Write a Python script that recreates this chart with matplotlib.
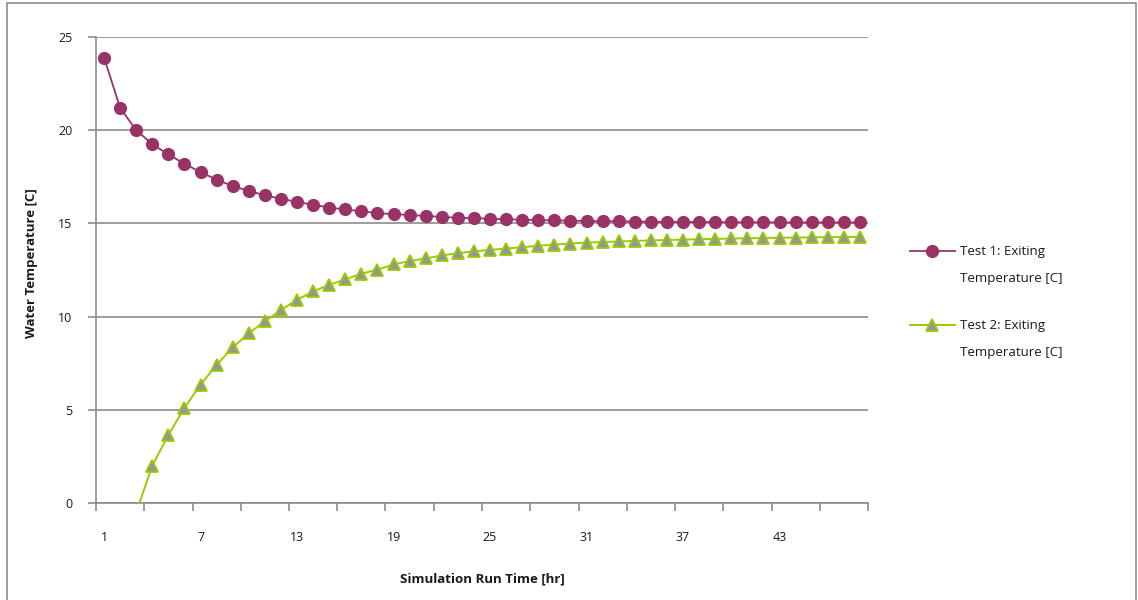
import matplotlib.pyplot as plt
from matplotlib.patches import Rectangle
from matplotlib.lines import Line2D

################## DATA ##################

hours = list(range(1, 49))

test1_temp = [23.9, 21.2, 20.0, 19.25, 18.7, 18.2, 17.75, 17.35, 17.0, 16.75,
              16.5, 16.33, 16.15, 16.0, 15.85, 15.75, 15.65, 15.55, 15.5, 15.45,
              15.4, 15.35, 15.3, 15.28, 15.25, 15.22, 15.2, 15.18, 15.16, 15.14,
              15.13, 15.12, 15.11, 15.1, 15.09, 15.08, 15.08, 15.07, 15.07, 15.06,
              15.06, 15.06, 15.05, 15.05, 15.05, 15.05, 15.05, 15.05]

# test 2 starts at hour 3 (first value sits just below the axis)
test2_hours = list(range(3, 49))
test2_temp = [-0.5, 2.0, 3.65, 5.1, 6.35, 7.4, 8.35, 9.1, 9.75, 10.35,
              10.9, 11.35, 11.7, 12.0, 12.3, 12.52, 12.8, 12.98, 13.12, 13.28,
              13.4, 13.5, 13.58, 13.65, 13.72, 13.8, 13.86, 13.92, 13.97, 14.0,
              14.03, 14.06, 14.09, 14.11, 14.13, 14.15, 14.17, 14.19, 14.2, 14.22,
              14.23, 14.24, 14.25, 14.26, 14.27, 14.28]

y_ticks = [0, 5, 10, 15, 20, 25]
x_labels = [1, 7, 13, 19, 25, 31, 37, 43]

labels = ['Test 1: Exiting\nTemperature [C]', 'Test 2: Exiting\nTemperature [C]']

################## PLOT ##################

plt.rcParams['font.family'] = ['Open Sans', 'DejaVu Sans']
grey = '#8c8c8c'
txt = '#1a1a1a'
W, H = 1138, 600

fig = plt.figure(figsize=(11.38, 6.0), dpi=100)
ax = fig.add_axes([96 / W, 1 - 503 / H, 772 / W, 466 / H])

# chart area border
fig.patches.append(Rectangle((7 / W, -0.01), 1129 / W, 1 - 3 / H + 0.01,
                             transform=fig.transFigure, fill=False,
                             edgecolor=grey, linewidth=1.2))

style1 = dict(color='#993366', linewidth=1.3, marker='o', markersize=8.5,
              markerfacecolor='#993366', markeredgecolor='#993366')
style2 = dict(color='#99CC00', linewidth=1.4, marker='^', markersize=9,
              markerfacecolor='#969696', markeredgecolor='#99CC00',
              markeredgewidth=1.3)

ax.plot(hours, test1_temp, zorder=3, **style1)
ax.plot(test2_hours, test2_temp, zorder=3, **style2)

ax.set_xlim(0.5, 48.5)
ax.set_ylim(0, 25)

# y axis
ax.set_yticks(y_ticks)
ax.tick_params(axis='y', length=6, width=1.2, color=grey, labelsize=9,
               labelcolor=txt, pad=11)
ax.yaxis.grid(True, color=grey, linewidth=1.2)
ax.set_axisbelow(True)

# x axis: tick marks on category borders, labels on categories
ax.set_xticks([0.5 + 3 * i for i in range(17)])
ax.set_xticklabels([])
ax.tick_params(axis='x', which='major', length=6, width=1.2, color=grey)
ax.set_xticks(x_labels, minor=True)
ax.set_xticklabels([str(v) for v in x_labels], minor=True)
ax.tick_params(axis='x', which='minor', length=0, labelsize=9,
               labelcolor=txt, pad=20)

for side in ['top', 'right']:
    ax.spines[side].set_visible(False)
for side in ['left', 'bottom']:
    ax.spines[side].set_color(grey)
    ax.spines[side].set_linewidth(1.2)

ax.set_xlabel('Simulation Run Time [hr]', fontsize=9.5, fontweight='bold',
              color=txt, labelpad=21)
fig.text(32 / W, 1 - 263 / H, 'Water Temperature [C]', fontsize=9.5,
         fontweight='bold', color=txt, rotation=90, ha='center', va='center')

# legend drawn by hand: handle aligned with the first text line
for i, (lab, st) in enumerate(zip(labels, [style1, style2])):
    y = 1 - (251 + 74 * i) / H
    fig.add_artist(Line2D([910 / W, 955 / W], [y, y], transform=fig.transFigure,
                          markevery=[], **st))
    fig.add_artist(Line2D([932 / W], [y], transform=fig.transFigure,
                          **st))
    fig.text(960 / W, y + 6 / H, lab, fontsize=9.5, color=txt, va='top',
             linespacing=2.4)

fig.savefig('out.png', dpi=100)
